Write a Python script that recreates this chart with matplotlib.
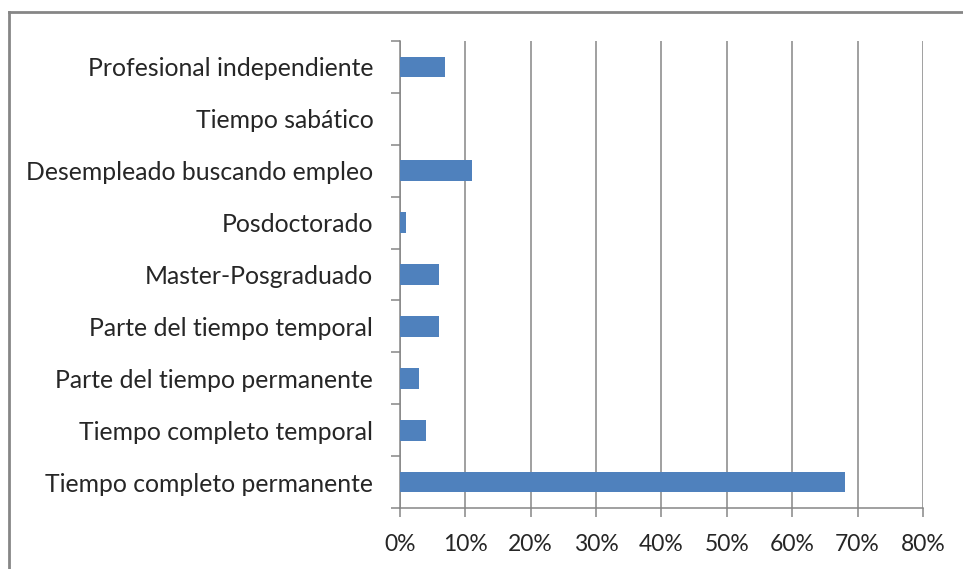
import numpy as np
import matplotlib
matplotlib.use("Agg")
import matplotlib.pyplot as plt
from matplotlib.lines import Line2D

categorias = [
    "Tiempo completo permanente",
    "Tiempo completo temporal",
    "Parte del tiempo permanente",
    "Parte del tiempo temporal",
    "Master-Posgraduado",
    "Posdoctorado",
    "Desempleado buscando empleo",
    "Tiempo sabático",
    "Profesional independiente",
]
porcentajes = [68, 4, 3, 6, 6, 1, 11, 0, 7]
ticks_x = [0, 10, 20, 30, 40, 50, 60, 70, 80]

plt.rcParams['font.family'] = ['Lato', 'DejaVu Sans']

fig = plt.figure(figsize=(9.63, 5.69), dpi=100)
ax = fig.add_axes([399.7 / 963, 1 - 508 / 569, (923 - 399.7) / 963, (508 - 41) / 569])

gris = "#868686"
y = np.arange(len(categorias))
ax.barh(y, porcentajes, height=0.4, color="#4F81BD", edgecolor="none", zorder=3)

ax.set_xlim(0, 80)
ax.set_ylim(-0.5, len(categorias) - 0.5)
ax.set_xticks(ticks_x)
ax.set_xticklabels([f"{t}%" for t in ticks_x])
ax.set_yticks(y)
ax.set_yticklabels(categorias)
ax.set_yticks(np.arange(-0.5, len(categorias)), minor=True)

ax.grid(axis="x", color=gris, linewidth=1.1, zorder=0)
for s in ["top", "right"]:
    ax.spines[s].set_visible(False)
for s in ["left", "bottom"]:
    ax.spines[s].set_color(gris)
    ax.spines[s].set_linewidth(1.1)

ax.tick_params(axis="y", which="major", length=0, pad=19, labelsize=17.8, labelcolor="#262626")
ax.tick_params(axis="y", which="minor", length=6.5, width=1.1, color=gris)
ax.tick_params(axis="x", which="major", length=6.5, width=1.1, color=gris, pad=12,
               labelsize=16.5, labelcolor="#262626")

# marco exterior del grafico
fig.add_artist(Line2D([9 / 963, 9 / 963], [0, 1 - 12 / 569], transform=fig.transFigure,
                      color=gris, linewidth=2))
fig.add_artist(Line2D([9 / 963, 1], [1 - 12 / 569, 1 - 12 / 569], transform=fig.transFigure,
                      color=gris, linewidth=2))

fig.savefig("out.png", dpi=100)
